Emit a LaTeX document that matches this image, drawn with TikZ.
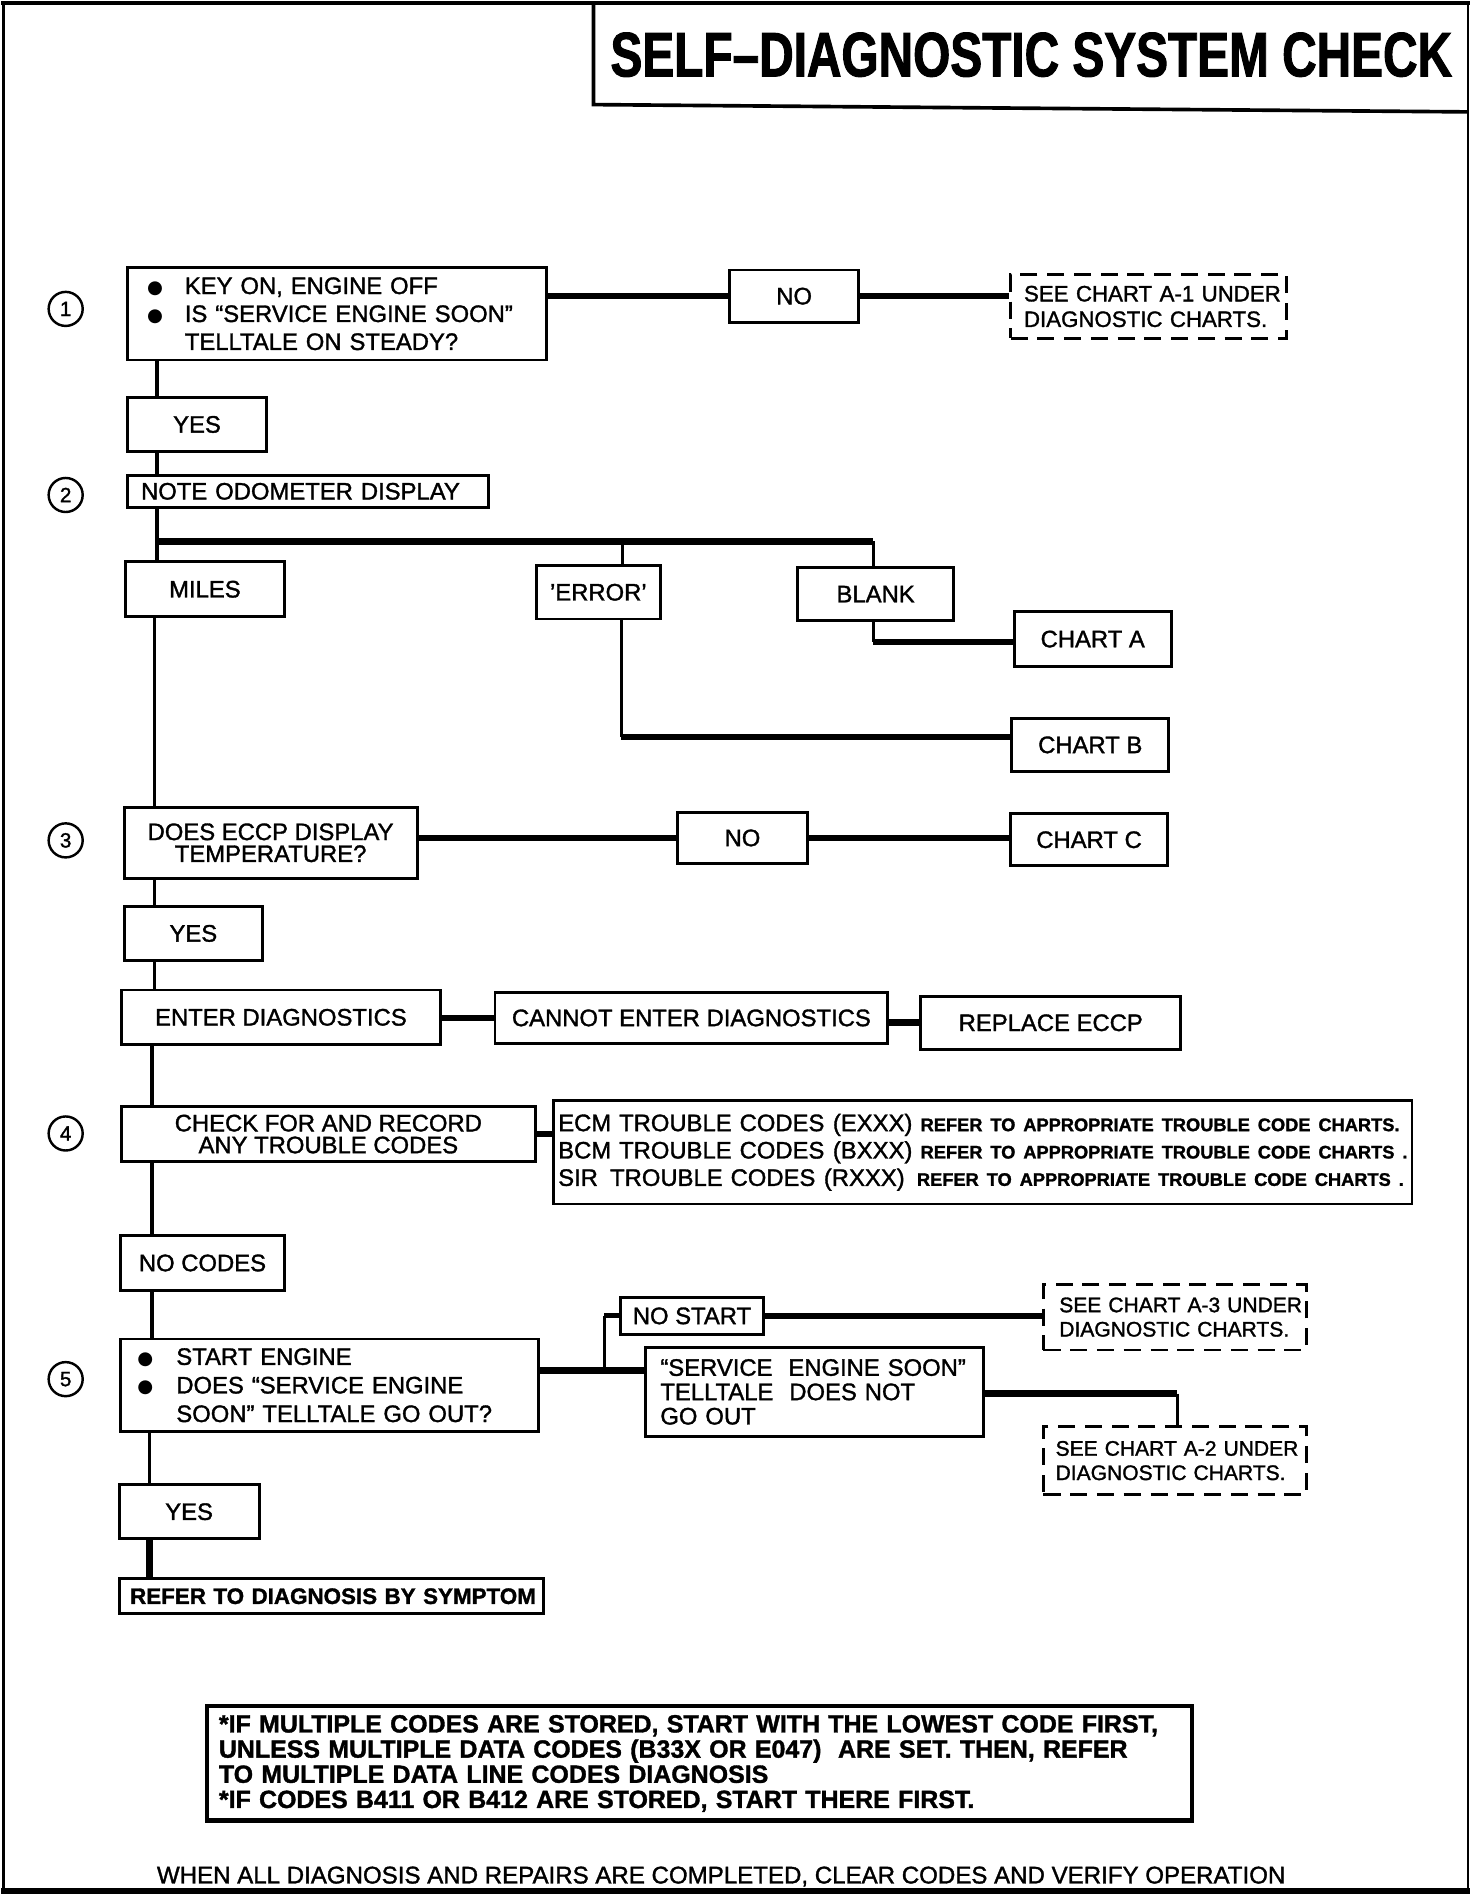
\documentclass[tikz,border=0pt]{standalone}
\usepackage{fontspec}
\setmainfont{Liberation Sans}[FakeBold=1.4]
\newfontfamily\titlefont{Liberation Sans}[FakeStretch=0.76,FakeBold=1.5]
\newfontfamily\djv{DejaVu Sans}
\newcommand\fs[2]{\fontsize{#1}{#2}\selectfont}
\newcommand\bul[1]{\makebox[#1][l]{\raisebox{0.5pt}{\djv\fs{15}{15}●}}}
\newcommand\rf[1]{{\bfseries\fs{15}{15}REFER TO APPROPRIATE TROUBLE CODE #1}}
\begin{document}
\begin{tikzpicture}[x=1pt,y=-1pt,
  bx/.style={draw, line width=2.4pt, inner sep=0pt, font=\fs{19.6}{23}},
  dbx/.style={bx, dash pattern=on 14pt off 8pt},
  circ/.style={draw, circle, line width=2pt, minimum size=28pt, inner sep=0pt, font=\fs{17}{17}},
  ln/.style={line width=2.8pt},
  hv/.style={line width=5.5pt}]
\useasboundingbox (0,0) rectangle (1210,1559);
% outer frame
\draw[line width=2pt] (3,2) -- (3,1556);
\draw[line width=2pt] (1207,2) -- (1207,1556);
\draw[line width=4pt] (1,2.5) -- (1209,2.5);
\draw[line width=5pt] (1,1555) -- (1209,1555);
% title
\draw[line width=3pt] (488,2) -- (488,86) -- (1207,92);
\node[font=\titlefont\bfseries\fs{51.7}{52}] (title) at (848,45) {SELF–DIAGNOSTIC SYSTEM CHECK};
% step numbers
\node[circ] (c1) at (54,254) {1};
\node[circ] (c2) at (54,407) {2};
\node[circ] (c3) at (54,691) {3};
\node[circ] (c4) at (54,932) {4};
\node[circ] (c5) at (54,1134) {5};
% step 1
\node[bx, text width=312pt, inner xsep=16pt, minimum height=76pt, align=left] (b1) at (277,258)
 {\mbox{\bul{31pt}KEY ON, ENGINE OFF}\\\mbox{\bul{31pt}IS “SERVICE ENGINE SOON”}\\\mbox{\hspace*{31pt}TELLTALE ON STEADY?}};
\node[bx, minimum width=106pt, minimum height=43pt] (no1) at (653,243.5) {NO};
\node[dbx, text width=205pt, inner xsep=11pt, minimum height=52pt, align=left, font=\fs{18.3}{21}] (d1) at (944.5,252)
 {\mbox{SEE CHART A-1 UNDER}\\\mbox{DIAGNOSTIC CHARTS.}};
\node[bx, minimum width=114pt, minimum height=44pt] (yes1) at (162,349) {YES};
% step 2
\node[bx, text width=275pt, inner xsep=11pt, minimum height=26pt, align=left] (note) at (253.5,404) {\mbox{NOTE ODOMETER DISPLAY}};
\node[bx, minimum width=131pt, minimum height=45pt] (miles) at (168.5,484.5) {MILES};
\node[bx, minimum width=102pt, minimum height=44pt] (err) at (492,487) {'ERROR'};
\node[bx, minimum width=128pt, minimum height=43pt] (blank) at (720,488.5) {BLANK};
\node[bx, minimum width=129pt, minimum height=45pt] (chA) at (898.5,525.5) {CHART A};
\node[bx, minimum width=129pt, minimum height=43pt] (chB) at (896.5,612.5) {CHART B};
% step 3
\node[bx, minimum width=241pt, minimum height=58pt, align=center, font=\fs{19.6}{18}] (b3) at (222.5,693) {DOES ECCP DISPLAY\\TEMPERATURE?};
\node[bx, minimum width=107pt, minimum height=42pt] (no3) at (610.5,689) {NO};
\node[bx, minimum width=129pt, minimum height=43pt] (chC) at (895.5,690.5) {CHART C};
\node[bx, minimum width=114pt, minimum height=45pt] (yes3) at (159,767.5) {YES};
\node[bx, minimum width=262pt, minimum height=45pt] (ent) at (231,836.5) {ENTER DIAGNOSTICS};
\node[bx, minimum width=323pt, minimum height=42pt] (cannot) at (568.5,837) {CANNOT ENTER DIAGNOSTICS};
\node[bx, minimum width=214pt, minimum height=44pt] (repl) at (864,841) {REPLACE ECCP};
% step 4
\node[bx, minimum width=340pt, minimum height=45pt, align=center, font=\fs{19.6}{18}] (b4) at (270,932.5) {CHECK FOR AND RECORD\\ANY TROUBLE CODES};
\node[bx, text width=698pt, inner xsep=4pt, minimum height=85pt, align=left, font=\fs{19.6}{22.5}] (codes) at (808,947.5)
 {\mbox{\makebox[298pt][l]{ECM TROUBLE CODES\hspace{7pt}(EXXX)}\rf{CHARTS.}}\\
  \mbox{\makebox[298pt][l]{BCM TROUBLE CODES\hspace{7pt}(BXXX)}\rf{CHARTS .}}\\
  \mbox{\makebox[295pt][l]{SIR\hspace{10pt}TROUBLE CODES\hspace{7pt}(RXXX)}\rf{CHARTS .}}};
\node[bx, minimum width=135pt, minimum height=45pt] (nocodes) at (166.5,1038.5) {NO CODES};
% step 5
\node[bx, text width=316pt, inner xsep=14pt, minimum height=76pt, align=left, font=\fs{19.6}{23.5}] (b5) at (271,1139)
 {\mbox{\bul{32pt}START ENGINE}\\\mbox{\bul{32pt}DOES “SERVICE ENGINE}\\\mbox{\hspace*{32pt}SOON” TELLTALE GO OUT?}};
\node[bx, minimum width=118pt, minimum height=30pt] (nostart) at (569,1082) {NO START};
\node[dbx, text width=190pt, inner xsep=13pt, minimum height=54pt, align=left, font=\fs{17.3}{20}] (d3) at (966,1083)
 {\mbox{SEE CHART A-3 UNDER}\\\mbox{DIAGNOSTIC CHARTS.}};
\node[bx, text width=254pt, inner xsep=12pt, minimum height=73pt, align=left, font=\fs{19.6}{20}] (ses) at (670,1144.5)
 {\mbox{“SERVICE \ ENGINE SOON”}\\\mbox{TELLTALE \ DOES NOT}\\\mbox{GO OUT}};
\node[dbx, text width=196pt, inner xsep=10pt, minimum height=56pt, align=left, font=\fs{17.3}{20}] (d2) at (966,1201)
 {\mbox{SEE CHART A-2 UNDER}\\\mbox{DIAGNOSTIC CHARTS.}};
\node[bx, minimum width=115pt, minimum height=44pt] (yes5) at (155.5,1243) {YES};
\node[bx, text width=331pt, inner xsep=9pt, minimum height=29pt, align=left, font=\bfseries\fs{18.4}{20}] (refer) at (272.5,1312.5) {\mbox{REFER TO DIAGNOSIS BY SYMPTOM}};
% notes and footer
\node[bx, line width=3.5pt, text width=790pt, inner xsep=10pt, minimum height=94pt, align=left, font=\bfseries\fs{20.5}{20.7}] (notes) at (575,1450)
 {\mbox{*IF MULTIPLE CODES ARE STORED, START WITH THE LOWEST CODE FIRST,}\\
  \mbox{UNLESS MULTIPLE DATA CODES (B33X OR E047) \ ARE SET. THEN, REFER}\\
  \mbox{TO MULTIPLE DATA LINE CODES DIAGNOSIS}\\
  \mbox{*IF CODES B411 OR B412 ARE STORED, START THERE FIRST.}};
\node[font=\fs{19.8}{20}] (foot) at (593,1543) {WHEN ALL DIAGNOSIS AND REPAIRS ARE COMPLETED, CLEAR CODES AND VERIFY OPERATION};
% connectors
\coordinate (sA) at (129,0);
\coordinate (sB) at (127,0);
\coordinate (sC) at (125,0);
\coordinate (sD) at (123,0);
\draw[ln] (b1.south -| sA) -- (yes1.north -| sA);
\draw[hv] (b1.east |- no1.west) -- (no1.west);
\draw[hv] (no1.east) -- (no1.east -| d1.west);
\draw[ln] (yes1.south -| sA) -- (note.north -| sA);
\draw[ln] (note.south -| sA) -- (miles.north -| sA);
\coordinate (br) at (129,445);
\coordinate (eA) at (512,445);
\coordinate (bA) at (718,445);
\draw[hv] (br) -- (bA);
\draw[ln] (eA) -- (eA |- err.north);
\draw[ln] (bA) -- (bA |- blank.north);
\coordinate (bB) at (718,528);
\draw[ln] (bB |- blank.south) -- (bB);
\draw[hv] (bB) -- (bB -| chA.west);
\coordinate (eB) at (511,606);
\draw[ln] (eB |- err.south) -- (eB);
\draw[hv] (eB) -- (eB -| chB.west);
\draw[ln, line width=3.2pt] (miles.south -| sB) -- (b3.north -| sB);
\draw[hv] (b3.east |- no3.west) -- (no3.west);
\draw[hv] (no3.east) -- (no3.east -| chC.west);
\draw[ln] (b3.south -| sB) -- (yes3.north -| sB);
\draw[ln] (yes3.south -| sB) -- (ent.north -| sB);
\draw[hv] (ent.east |- cannot.west) -- (cannot.west);
\draw[hv] (cannot.east |- repl.west) -- (repl.west);
\draw[ln] (ent.south -| sC) -- (b4.north -| sC);
\draw[hv] (b4.east) -- (b4.east -| codes.west);
\draw[ln] (b4.south -| sC) -- (nocodes.north -| sC);
\draw[ln] (nocodes.south -| sC) -- (b5.north -| sC);
\coordinate (j5) at (497,1127);
\draw[hv] (b5.east |- j5) -- (j5 -| ses.west);
\draw[ln] (j5) -- (j5 |- nostart.west);
\draw[line width=4pt] (j5 |- nostart.west) -- (nostart.west);
\draw[hv] (nostart.east) -- (nostart.east -| d3.west);
\coordinate (k5) at (968,1146);
\draw[hv] (ses.east |- k5) -- (k5);
\draw[ln] (k5) -- (k5 |- d2.north);
\draw[ln] (b5.south -| sD) -- (yes5.north -| sD);
\draw[hv] (yes5.south -| sD) -- (refer.north -| sD);
\end{tikzpicture}
\end{document}
